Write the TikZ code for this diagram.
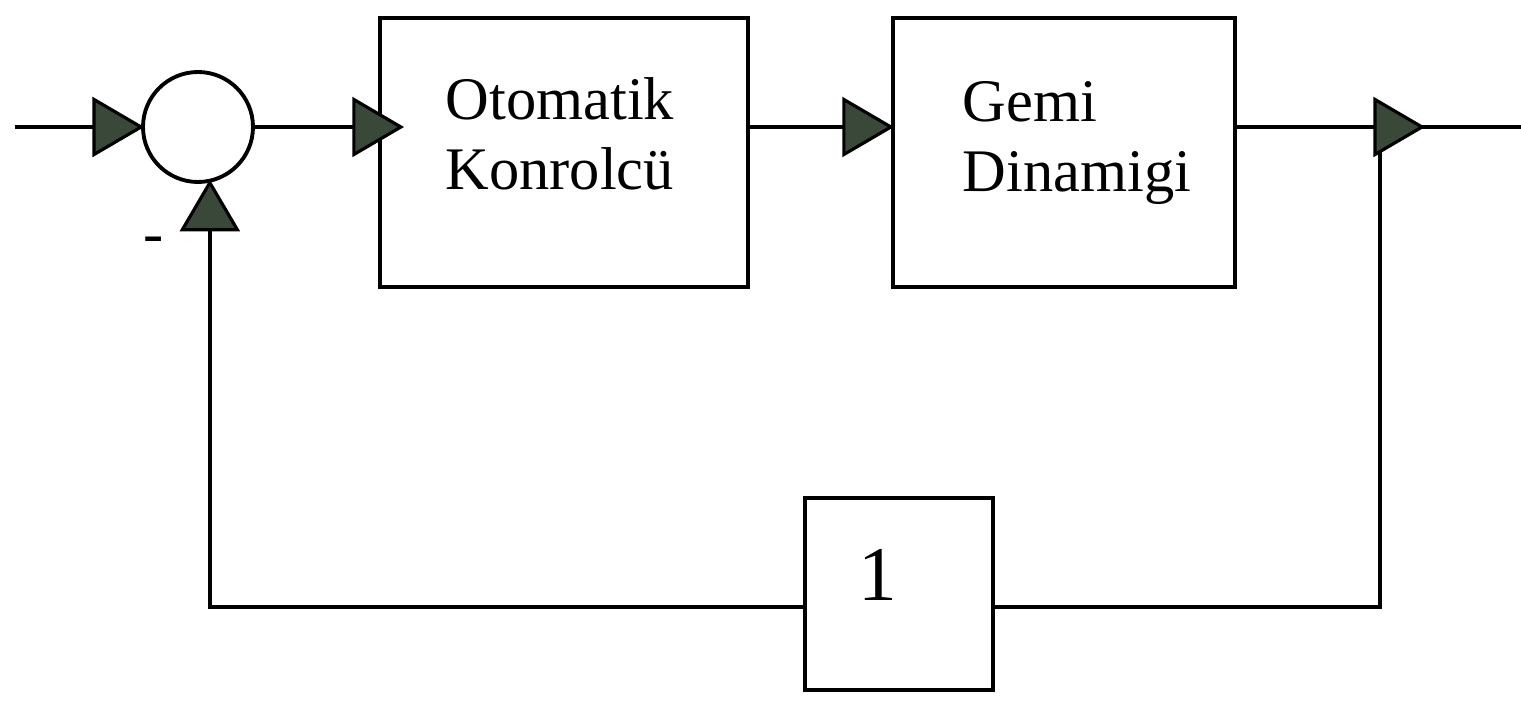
\documentclass[tikz,border=0pt]{standalone}
\usepackage{fontspec}
\setmainfont{Liberation Serif}
\definecolor{arrowfill}{RGB}{58,72,58}
\tikzset{
  wire/.style={line width=1pt, draw=black},
  block/.style={draw, line width=1.2pt, inner sep=0pt},
  sumnode/.style={circle, draw, line width=1.1pt, minimum size=1.1cm, inner sep=0pt},
  lbl/.style={font=\fontsize{17.2}{19.9}\selectfont, align=left, inner sep=0pt},
  tri/.pic={\filldraw[fill=arrowfill, draw=black, line width=0.9pt, line join=miter]
      (0,0) -- (-0.47,0.275) -- (-0.47,-0.275) -- cycle;}
}
\begin{document}
\begin{tikzpicture}
\useasboundingbox (0,0) rectangle (15.21,7.04);
\node[sumnode] (sum) at (1.98,5.77) {};
\node[block, minimum width=3.68cm, minimum height=2.69cm] (ctrl) at (5.64,5.515) {};
\node[block, minimum width=3.42cm, minimum height=2.69cm] (ship) at (10.64,5.515) {};
\node[block, minimum width=1.88cm, minimum height=1.92cm] (fb) at (8.99,1.10) {};
\node[lbl, anchor=north west] (t1) at (4.45,6.27) {Otomatik\\Konrolcü};
\node[lbl, anchor=north west] (t2) at (9.62,6.23) {Gemi\\Dinamigi};
\node[inner sep=0pt, font=\fontsize{22}{24}\selectfont, anchor=base] (one) at (8.78,1.04) {1};
\node[lbl] (minus) at (1.54,4.59) {-};
\coordinate (in) at (0.15,5.77);
\coordinate (out) at (15.21,5.77);
\coordinate (br) at (13.80,5.77);
\coordinate (fbr) at (13.80,0.97);
\coordinate (sumb) at (sum.-78);
\coordinate (fbl) at (sumb |- fbr);
\draw[wire] (in) -- (sum.west);
\draw[wire] (sum.east) -- (ctrl.west |- sum.east);
\draw[wire] (ctrl.east |- sum.east) -- (ship.west |- sum.east);
\draw[wire] (ship.east |- sum.east) -- (out);
\draw[wire] (br) -- (fbr) -- (fb.east |- fbr);
\draw[wire] (fb.west |- fbr) -- (fbl) -- (sumb);
\pic at ([xshift=0.23cm]ctrl.west |- sum.east) {tri};
\pic at (sum.west) {tri};
\pic at (ship.west |- sum.east) {tri};
\pic at (14.22,5.77) {tri};
\pic[rotate=90] at (sumb) {tri};
\end{tikzpicture}
\end{document}
